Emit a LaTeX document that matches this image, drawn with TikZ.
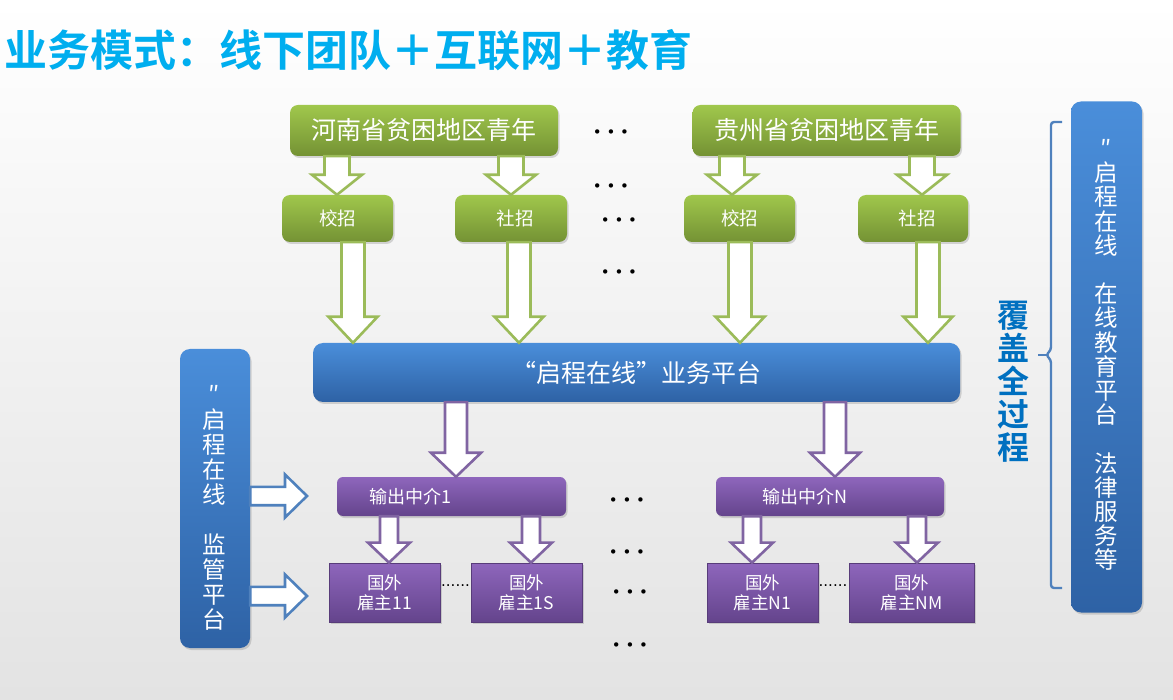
\documentclass[tikz,border=0pt]{standalone}
\usepackage{fontspec}
\setmainfont{Noto Sans CJK SC}[BoldFont={Noto Sans CJK SC Bold}]
\newfontfamily\dotfont{DejaVu Sans}
\usetikzlibrary{calc,shadows}
\definecolor{gTop}{RGB}{160,199,76}
\definecolor{gBot}{RGB}{116,146,52}
\definecolor{gLine}{RGB}{155,187,89}
\definecolor{bTop}{RGB}{74,142,218}
\definecolor{bBot}{RGB}{46,98,165}
\definecolor{bLine}{RGB}{79,129,189}
\definecolor{pTop}{RGB}{142,102,188}
\definecolor{pBot}{RGB}{100,68,140}
\definecolor{pLine}{RGB}{128,100,162}
\definecolor{pEdge}{RGB}{88,60,122}
\definecolor{titleC}{RGB}{0,174,239}
\definecolor{coverC}{RGB}{0,112,192}
\newcommand\blkdown[7]{\draw[#1] let \p1=(#3), \p2=(#4) in
  ({#2pt-#5pt},\y1) -- ({#2pt-#5pt},{\y2+#7pt}) -- ({#2pt-#6pt},{\y2+#7pt}) -- (#2pt,\y2)
  -- ({#2pt+#6pt},{\y2+#7pt}) -- ({#2pt+#5pt},{\y2+#7pt}) -- ({#2pt+#5pt},\y1) -- cycle;}
\newcommand\blkright[7]{\draw[#1] let \p1=(#3), \p2=(#4) in
  (\x1,{-#2pt+#5pt}) -- ({\x2-#7pt},{-#2pt+#5pt}) -- ({\x2-#7pt},{-#2pt+#6pt}) -- (\x2,-#2pt)
  -- ({\x2-#7pt},{-#2pt-#6pt}) -- ({\x2-#7pt},{-#2pt-#5pt}) -- (\x1,{-#2pt-#5pt}) -- cycle;}
\tikzset{
  box/.style={inner sep=0pt, text=white, align=center,
    drop shadow={shadow xshift=1.5pt, shadow yshift=-2pt, opacity=.3}},
  gbox/.style={box, rounded corners=8pt, top color=gTop, bottom color=gBot},
  bbox/.style={box, rounded corners=10pt, top color=bTop, bottom color=bBot},
  pbox/.style={box, rounded corners=6pt, top color=pTop, bottom color=pBot},
  ebox/.style={box, draw=pEdge, line width=.7pt, top color=pTop, bottom color=pBot,
    minimum width=111pt, minimum height=59pt, font=\fontsize{17.5}{20}\selectfont},
  garrow/.style={draw=gLine, line width=2.6pt, fill=white},
  parrow/.style={draw=pLine, line width=2.6pt, fill=white},
  barrow/.style={draw=bLine, line width=2.6pt, fill=white},
  dots/.style={font=\dotfont\fontsize{15}{15}\selectfont, inner sep=0pt},
  sdots/.style={font=\dotfont\fontsize{15}{15}\selectfont, inner sep=0pt},
  vtext/.style={text=white, align=center, inner sep=0pt},
}
\begin{document}
\begin{tikzpicture}[x=1pt,y=-1pt]
\useasboundingbox (0,0) rectangle (1173,700);
\fill[top color=white, bottom color=black!11] (0,0) rectangle (1173,700);

\node[anchor=west, inner sep=0pt, text=titleC, font=\bfseries\fontsize{43}{46}\selectfont] (title) at (4,50) {业务模式：线下团队＋互联网＋教育};

% green boxes
\node[gbox, minimum width=268pt, minimum height=51pt, font=\fontsize{25}{28}\selectfont] (henan) at (424,130.5) {河南省贫困地区青年};
\node[gbox, minimum width=268pt, minimum height=51pt, font=\fontsize{25}{28}\selectfont] (guizhou) at (826.5,130.5) {贵州省贫困地区青年};
\node[gbox, minimum width=111pt, minimum height=47pt, font=\fontsize{18.5}{20}\selectfont] (xiao1) at (337.5,218.5) {校招};
\node[gbox, minimum width=112pt, minimum height=47pt, font=\fontsize{18.5}{20}\selectfont] (she1) at (511,218.5) {\hspace*{8pt}社招};
\node[gbox, minimum width=111pt, minimum height=47pt, font=\fontsize{18.5}{20}\selectfont] (xiao2) at (739.5,218.5) {校招};
\node[gbox, minimum width=110pt, minimum height=47pt, font=\fontsize{18.5}{20}\selectfont] (she2) at (913,218.5) {\hspace*{8pt}社招};

% platform
\node[bbox, minimum width=647pt, minimum height=59pt, font=\fontsize{25}{28}\selectfont] (plat) at (636.5,372.5) {“启程在线”业务平台};

% side boxes
\node[bbox, minimum width=71pt, minimum height=511pt] (rbox) at (1106.5,357) {};
\node[vtext, font=\fontsize{23.5}{24.2}\selectfont] (rtext) at (1106.5,355) {″\\启\\程\\在\\线\\\mbox{}\\在\\线\\教\\育\\平\\台\\\mbox{}\\法\\律\\服\\务\\等};
\node[bbox, minimum width=70pt, minimum height=299pt] (lbox) at (215,498.5) {};
\node[vtext, font=\fontsize{23.5}{25}\selectfont] (ltext) at (214,508) {″\\启\\程\\在\\线\\\mbox{}\\监\\管\\平\\台};

% cover label and bracket
\node[inner sep=0pt, align=center, text=coverC, font=\bfseries\fontsize{32}{33}\selectfont] (cover) at (1013,381.5) {覆\\盖\\全\\过\\程};
\draw[bLine, line width=2.4pt, rounded corners=3pt] (1062,122) -- (1051,122) -- (1051,350) -- (1046,355) -- (1051,360) -- (1051,588) -- (1062,588);
\draw[bLine, line width=2.4pt] (1047,355) -- (1038,355);

% intermediaries
\node[pbox, minimum width=229pt, minimum height=39pt, font=\fontsize{18}{20}\selectfont] (mid1) at (451.5,496.5) {输出中介1\hspace*{82pt}};
\node[pbox, minimum width=228pt, minimum height=39pt, font=\fontsize{18}{20}\selectfont] (midN) at (830,496.5) {输出中介N\hspace*{50pt}};

% employers
\node[ebox] (e11) at (384.5,592.5) {国外\\雇主11};
\node[ebox] (e1S) at (526.5,592.5) {国外\\雇主1S};
\node[ebox] (eN1) at (762.5,592.5) {国外\\雇主N1};
\node[ebox, minimum width=125pt] (eNM) at (911.5,592.5) {国外\\雇主NM};

% green arrows
\blkdown{garrow}{337}{henan.south}{xiao1.north}{12.5}{25}{20}
\blkdown{garrow}{511}{henan.south}{she1.north}{12.5}{25}{20}
\blkdown{garrow}{732}{guizhou.south}{xiao2.north}{12.5}{25}{20}
\blkdown{garrow}{922}{guizhou.south}{she2.north}{12.5}{25}{20}
\blkdown{garrow}{353}{xiao1.south}{plat.north}{11.5}{24.5}{26}
\blkdown{garrow}{519}{she1.south}{plat.north}{11.5}{24.5}{26}
\blkdown{garrow}{740}{xiao2.south}{plat.north}{11.5}{24.5}{26}
\blkdown{garrow}{928}{she2.south}{plat.north}{11.5}{24.5}{26}

% purple arrows
\blkdown{parrow}{456}{plat.south}{mid1.north}{11}{25}{24}
\blkdown{parrow}{835}{plat.south}{midN.north}{11}{25}{24}
\blkdown{parrow}{389}{mid1.south}{e11.north}{9}{21}{20}
\blkdown{parrow}{531}{mid1.south}{e1S.north}{9}{21}{20}
\blkdown{parrow}{752}{midN.south}{eN1.north}{9}{21}{20}
\blkdown{parrow}{917}{midN.south}{eNM.north}{9}{21}{20}

% blue arrows
\coordinate (tipA) at (307,496);
\coordinate (tipB) at (307,596);
\blkright{barrow}{496}{lbox.east}{tipA}{9.2}{21.5}{22}
\blkright{barrow}{596}{lbox.east}{tipB}{9.2}{21.5}{22}

% ellipsis dots
\node[dots] (d1) at (611,134) {• • •};
\node[dots] (d2) at (611,188) {• • •};
\node[dots] (d3) at (619,222) {• • •};
\node[dots] (d4) at (619,274) {• • •};
\node[dots] (d5) at (627,502) {• • •};
\node[dots] (d6) at (627,554) {• • •};
\node[dots] (d7) at (630,594) {• • •};
\node[dots] (d8) at (630,647) {• • •};
\node[sdots] (s1) at (455.5,586) {......};
\node[sdots] (s2) at (833,586) {......};
\end{tikzpicture}
\end{document}
